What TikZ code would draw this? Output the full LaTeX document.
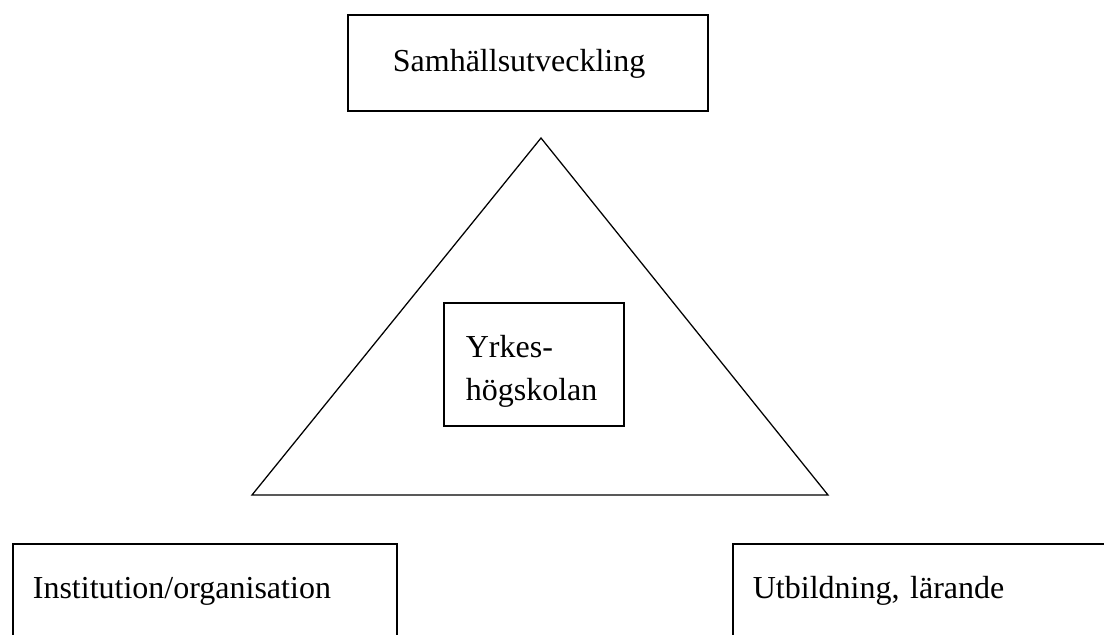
\documentclass[tikz,border=0pt]{standalone}
\usepackage{fontspec}
\setmainfont{Liberation Serif}
\usepackage{tikz}
\usetikzlibrary{positioning}

\begin{document}
\begin{tikzpicture}[x=0.025cm,y=-0.025cm,semithick]
  \tikzstyle{textbox}=[draw=black,line width=1.2pt,anchor=north west,
    inner ysep=0pt,align=left,text height=1.375cm,
    font=\fontsize{22.76}{30.6}\selectfont]

  %--- page frame ---
  \useasboundingbox (0,0) rectangle (1104,634);
  \clip (0,0) rectangle (1104,634);

  %--- triangle ---
  \coordinate (top)   at (541,138);
  \coordinate (left)  at (252,495);
  \coordinate (right) at (828,495);
  \draw[line width=0.9pt] (top) -- (right) -- (left) -- cycle;

  %--- boxes ---
  \node[textbox, inner xsep=1.125cm, text width=6.75cm,
        text height=1.425cm, text depth=0.975cm]
    (samh) at (347,14) {Samh\"allsutveckling};                 % top
  \node[textbox, inner xsep=0.55cm, text width=3.4cm, text depth=1.7cm]
    (yh) at (443,302) {Yrkes-\\h\"ogskolan};                     % centre
  \node[textbox, inner xsep=0.5cm, text width=8.6cm, text depth=1.6cm]
    (inst) at (12,543) {Institution/organisation};              % bottom left
  \node[textbox, inner xsep=0.5cm, text width=8.8cm, text depth=1.6cm]
    (utb) at (732,543) {Utbildning, l\"arande};                 % bottom right
\end{tikzpicture}
\end{document}
